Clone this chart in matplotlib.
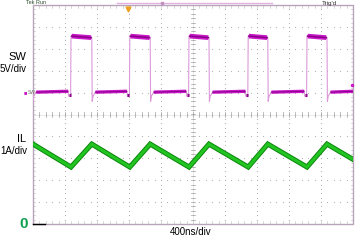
import numpy as np
import matplotlib.pyplot as plt

plt.rcParams['font.family'] = ['Liberation Sans', 'DejaVu Sans']

# time axis in ns, 10 div x 400 ns/div, centre = 0
rise_t = [-1525, -790, -50, 690, 1425]
fall_t = [-1265, -535, 200, 935, 1675]

# SW node levels (V)
sw_high_start = 12.9
sw_high_end = 12.55
sw_low = 0.1
sw_dip = -0.8      # dead time before rising edge
sw_spike = -2.0    # ringing after falling edge

# inductor current (A), peaks at falling edges, valleys at rising edges
il_t = [-2000, -1525, -1265, -790, -535, -50, 200, 690, 935, 1425, 1675, 2000]
il_a = [3.65, 2.6, 3.65, 2.6, 3.65, 2.6, 3.65, 2.6, 3.65, 2.6, 3.65, 2.95]

sw_scale, sw_offset = 5.0, 1.0   # V/div, div
il_scale, il_offset = 1.0, -5.0  # A/div, div

def sw_div(v):
    return sw_offset + np.asarray(v) / sw_scale

fig = plt.figure(figsize=(3.55, 2.4), dpi=100)
ax = fig.add_axes([33 / 355, 16 / 240, 320 / 355, 219 / 240])
ax.set_xlim(-2000, 2000)
ax.set_ylim(-5, 5)
ax.axis('off')

# graticule dots
grid_c = '#b0b0b0'
minor_x = np.arange(-2000, 2001, 80)
minor_y = np.arange(-5, 5.01, 0.2)
for gx in range(-1600, 1601, 400):
    ax.scatter(np.full(len(minor_y), gx), minor_y, s=0.7, c=grid_c, lw=0, zorder=1)
for gy in range(-4, 5):
    ax.scatter(minor_x, np.full(len(minor_x), gy), s=0.7, c=grid_c, lw=0, zorder=1)
# centre ticks
ax.plot([0, 0], [-5, 5], color='#d8d8d8', lw=0.4, zorder=1)
ax.plot([-2000, 2000], [0, 0], color='#d8d8d8', lw=0.4, zorder=1)
for gy in minor_y:
    ax.plot([-25, 25], [gy, gy], color='#a0a0a0', lw=0.5, zorder=1)
for gx in minor_x:
    ax.plot([gx, gx], [-0.1, 0.1], color='#a0a0a0', lw=0.5, zorder=1)
# border
bc = '#b8a4b8'
ax.plot([-2000, 2000, 2000, -2000, -2000], [-5, -5, 5, 5, -5], color=bc, lw=1.0, zorder=2, clip_on=False)
for gx in minor_x:
    ax.plot([gx, gx], [5, 4.88], color='#c8c8c8', lw=0.5, zorder=1)
    ax.plot([gx, gx], [-5, -4.88], color='#c8c8c8', lw=0.5, zorder=1)
for gy in minor_y:
    ax.plot([-2000, -1970], [gy, gy], color='#c8c8c8', lw=0.5, zorder=1)
    ax.plot([2000, 1970], [gy, gy], color='#c8c8c8', lw=0.5, zorder=1)

# SW waveform: thin edges
xs, ys = [-2000, -1990, -1960], [sw_spike, sw_spike * 0.4, sw_low]
for r, f in zip(rise_t, fall_t):
    xs += [r - 35, r - 30, r - 5, r, f, f + 5, f + 15, f + 45]
    ys += [sw_low, sw_dip, sw_dip, sw_high_start, sw_high_end, sw_spike, sw_spike * 0.4, sw_low]
xs.append(2000)
ys.append(sw_low)
ax.plot(xs, sw_div(ys), color='#dc9ada', lw=0.8, zorder=3)

# SW waveform: thick levels
mag = '#c818c8'
lows = [(-1960, rise_t[0] - 35)] + [(f + 45, r - 35) for f, r in zip(fall_t[:-1], rise_t[1:])] + [(fall_t[-1] + 45, 2000)]
for a, b in lows:
    ax.plot([a, b], sw_div([sw_low, sw_low + 0.2]), color=mag, lw=2.4, solid_capstyle='butt', zorder=4)
    ax.plot([a, b], sw_div([sw_low, sw_low + 0.2]), color='#8c008c', lw=0.7, zorder=4)
for r, f in zip(rise_t, fall_t):
    ax.plot([r + 8, f - 8], sw_div([sw_high_start, sw_high_end]), color=mag, lw=3.4, solid_capstyle='butt', zorder=4)
    ax.plot([r + 8, f - 8], sw_div([sw_high_start, sw_high_end]), color='#8c008c', lw=1.1, zorder=4)
    ax.plot([r - 30, r - 5], sw_div([sw_dip * 0.6, sw_dip * 0.6]), color='#8c008c', lw=2.2, solid_capstyle='butt', zorder=4)

# inductor current
il_div = il_offset + np.asarray(il_a) / il_scale
ax.plot(il_t, il_div, color='#0c860c', lw=3.6, zorder=5, solid_joinstyle='miter')
ax.plot(il_t, il_div, color='#22c422', lw=2.2, zorder=6, solid_joinstyle='miter')

# markers
ax.plot([-2000, -1850], [-5, -5], color='black', lw=1.0, zorder=6, clip_on=False)
ax.plot([1985], [1.35], marker='o', ms=1.5, color=mag, zorder=6, clip_on=False)
fig.text(27 / 355, 1 - 92.5 / 240, '\u25a0', color=mag, fontsize=4, va='center', ha='right')
fig.text(28 / 355, 1 - 92.5 / 240, 'SW', color='#707070', fontsize=3.5, va='center', ha='left')

# top status bar
fig.add_artist(plt.Line2D([117 / 355, 272 / 355], [1 - 3 / 240] * 2, color='#e2b0e2', lw=1.0))
fig.add_artist(plt.Line2D([162 / 355], [1 - 3 / 240], marker='s', ms=1.8, color='#c090c0'))
fig.add_artist(plt.Line2D([128 / 355], [1 - 9 / 240], marker='v', ms=3.5, color='#f0a020'))
fig.text(26 / 355, 1 - 3 / 240, 'Tek Run', fontsize=4, color='#305030', va='center', ha='left')
fig.text(322 / 355, 1 - 3 / 240, "Trig'd", fontsize=4.5, color='#303030', va='center', ha='left')

# channel labels
fig.text(26 / 355, 1 - 56.5 / 240, 'SW', fontsize=8, ha='right', va='center')
fig.text(27 / 355, 1 - 69.5 / 240, '5V/div', fontsize=7, ha='right', va='center')
fig.text(26 / 355, 1 - 138.5 / 240, 'IL', fontsize=8, ha='right', va='center')
fig.text(27 / 355, 1 - 151.5 / 240, '1A/div', fontsize=7, ha='right', va='center')
fig.text(24 / 355, 1 - 224 / 240, '0', fontsize=11, color='#10a050', fontweight='bold', ha='center', va='center')
fig.text(191 / 355, 1 - 232 / 240, '400ns/div', fontsize=7, ha='center', va='center')

fig.savefig('out.png', dpi=100)
